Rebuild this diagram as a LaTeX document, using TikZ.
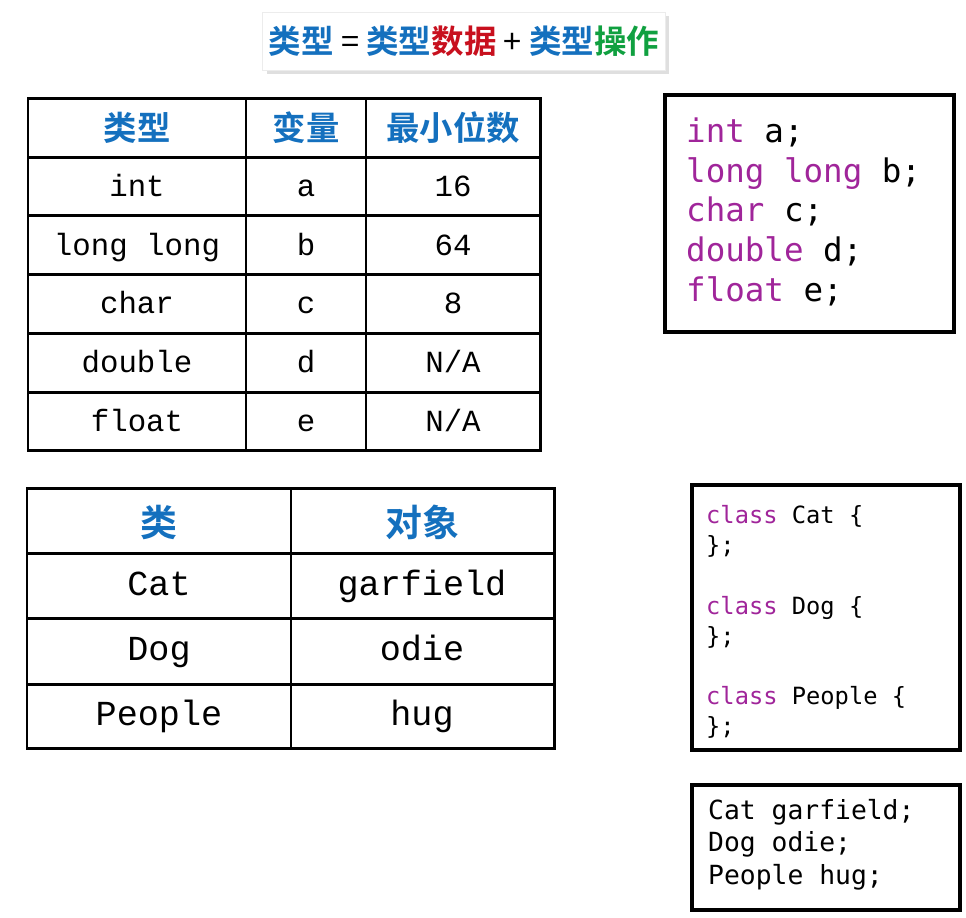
\documentclass[tikz,border=0pt]{standalone}
\usepackage{fontspec}
\usepackage{tikz}
\usetikzlibrary{shadows}
\newfontfamily\cjk{Noto Sans CJK SC}[BoldFont={Noto Sans CJK SC Bold}]
\setmonofont{Liberation Mono}
\newfontfamily\codefont{DejaVu Sans Mono}
\definecolor{hdblue}{HTML}{1470BE}
\definecolor{hdred}{HTML}{C8101E}
\definecolor{hdgreen}{HTML}{10A040}
\definecolor{kwpurple}{HTML}{A0259A}
\tikzset{
  grid line/.style={line width=1.7pt},
  head/.style={font=\cjk\bfseries\fontsize{19}{19}\selectfont, text=hdblue},
  cell/.style={font=\ttfamily\fontsize{17.5}{17.5}\selectfont, text height=1.5ex, text depth=0.4ex},
  cellbig/.style={font=\ttfamily\fontsize{20}{20}\selectfont, text height=1.5ex, text depth=0.4ex},
  codebox/.style={line width=1.8pt},
  code/.style={font=\codefont\fontsize{17.5}{21.5}\selectfont, align=left, anchor=north west},
}
\begin{document}
\begin{tikzpicture}[x=0.02cm,y=-0.02cm]
    \useasboundingbox (0,0) rectangle (966,917);
    % title
    \node[draw=gray!15, fill=white, drop shadow={opacity=0.25}, minimum width=402*0.02cm, minimum height=58*0.02cm, font=\cjk\bfseries\fontsize{18.5}{18.5}\selectfont] (title) at (464,41)
        {\textcolor{hdblue}{类型} {\mdseries =} \textcolor{hdblue}{类型}\textcolor{hdred}{数据} {\mdseries +} \textcolor{hdblue}{类型}\textcolor{hdgreen}{操作}};
    % table of types
    \draw[grid line] (28,98) rectangle (540,450);
    \foreach \y in {157,215,274,333,392} \draw[grid line] (28,\y) -- (540,\y);
    \foreach \x in {246,366} \draw[grid line] (\x,98) -- (\x,450);
    \node[head] (tA) at (137,128) {类型};
    \node[head] (tB) at (306,128) {变量};
    \node[head] (tC) at (453,128) {最小位数};
    \foreach \t/\v/\n [count=\i] in {int/a/16, long long/b/64, char/c/8, double/d/N\slash A, float/e/N\slash A}{
        \node[cell] (type\i) at (137,134+58.6*\i) {\t};
        \node[cell] (var\i) at (306,134+58.6*\i) {\v};
        \node[cell] (bits\i) at (453,134+58.6*\i) {\n};
    }
    % variables
    \draw[codebox] (665,95) rectangle (954,332);
    \node[code, font=\codefont\fontsize{18.5}{22.5}\selectfont] (vars) at (680,112)
        {\textcolor{kwpurple}{int} a;\\\textcolor{kwpurple}{long long} b;\\\textcolor{kwpurple}{char} c;\\\textcolor{kwpurple}{double} d;\\\textcolor{kwpurple}{float} e;};
    % table of classes
    \draw[grid line] (27,488) rectangle (554,748);
    \foreach \y in {553,618,684} \draw[grid line] (27,\y) -- (554,\y);
    \draw[grid line] (291,488) -- (291,748);
    \node[head, font=\cjk\bfseries\fontsize{21}{21}\selectfont] (cA) at (159,522) {类};
    \node[head, font=\cjk\bfseries\fontsize{21}{21}\selectfont] (cB) at (422,522) {对象};
    \foreach \c/\o [count=\i] in {Cat/garfield, Dog/odie, People/hug}{
        \node[cellbig] (cls\i) at (159,526+65*\i) {\c};
        \node[cellbig] (obj\i) at (422,526+65*\i) {\o};
    }
    % class declarations
    \draw[codebox] (692,485) rectangle (960,750);
    \node[code, font=\codefont\fontsize{13.5}{17.2}\selectfont] (decl) at (700,499)
        {\textcolor{kwpurple}{class} Cat \{\\\};\\[\baselineskip]\textcolor{kwpurple}{class} Dog \{\\\};\\[\baselineskip]\textcolor{kwpurple}{class} People \{\\\};};
    % objects
    \draw[codebox] (692,785) rectangle (960,910);
    \node[code, font=\codefont\fontsize{15}{18.5}\selectfont] (objs) at (702,793)
        {Cat garfield;\\Dog odie;\\People hug;};
\end{tikzpicture}
\end{document}
